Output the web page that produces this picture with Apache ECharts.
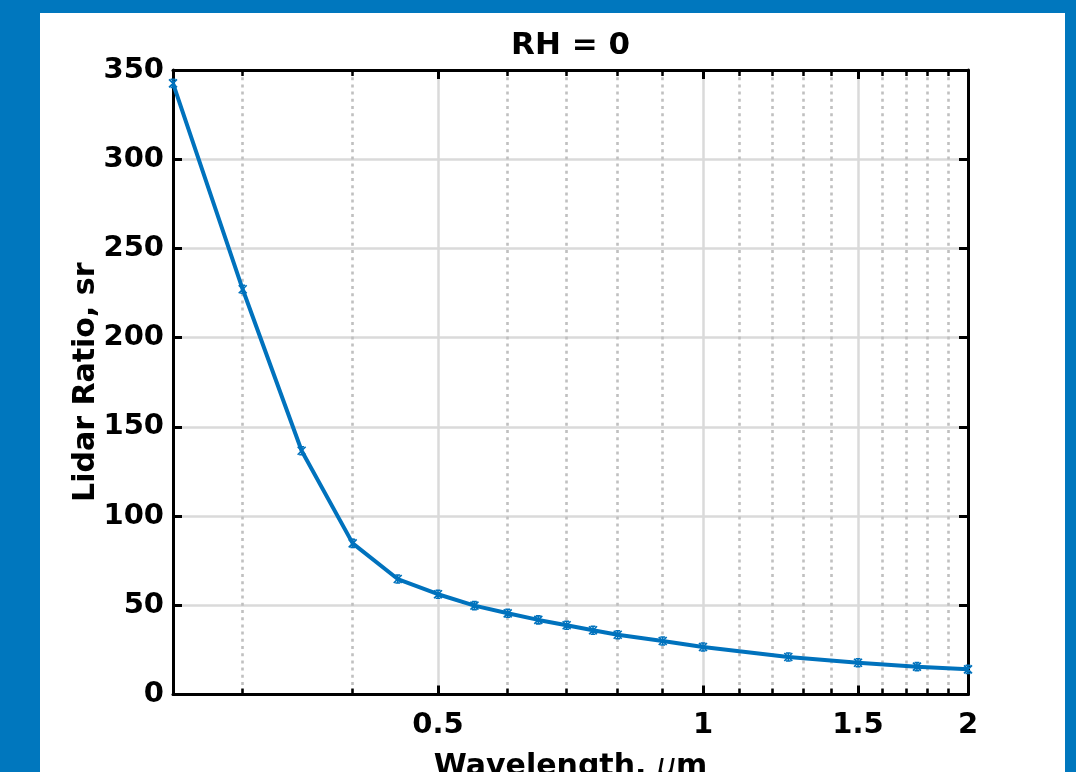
<!DOCTYPE html>
<html>
<head>
<meta charset="utf-8">
<script src="https://cdn.jsdelivr.net/npm/echarts@6/dist/echarts.min.js"></script>
<style>
  html, body { margin: 0; padding: 0; background: #0077be; }
  #chart { width: 1076px; height: 772px; }
</style>
</head>
<body>
<div id="chart"></div>
<script>
// Lidar ratio versus wavelength, dry aerosol (RH = 0)
const wavelengths = [0.25, 0.3, 0.35, 0.4, 0.45, 0.5, 0.55, 0.6, 0.65, 0.7, 0.75, 0.8, 0.9, 1.0, 1.25, 1.5, 1.75, 2.0];
const lidarRatio  = [342.5, 227.1, 136.6, 84.7, 64.7, 56.2, 49.8, 45.5, 41.8, 38.8, 36.0, 33.5, 30.0, 26.6, 21.0, 17.8, 15.6, 14.1];

const xMajorTicks  = [0.5, 1, 1.5, 2];
const xTickLabels  = ['0.5', '1', '1.5', '2'];
const xMinorTicks  = [0.3, 0.4, 0.6, 0.7, 0.8, 0.9, 1.1, 1.2, 1.3, 1.4, 1.6, 1.7, 1.8, 1.9];
const yTickValues  = [0, 50, 100, 150, 200, 250, 300, 350];

const titleText = 'RH = 0';
const yTitle = 'Lidar Ratio, sr';

const FONT = 'DejaVu Sans';
const LINE_BLUE = '#0072bd';
const GRID_GRAY = '#dadada';
const MINOR_GRAY = '#c0c0c0';

const chart = echarts.init(document.getElementById('chart'), null, { renderer: 'canvas' });

function nearestLabel(v) {
  let best = 0;
  for (let i = 1; i < xMajorTicks.length; i++) {
    if (Math.abs(xMajorTicks[i] - v) < Math.abs(xMajorTicks[best] - v)) best = i;
  }
  return xTickLabels[best];
}

const xRange = { type: 'log', logBase: 10, min: wavelengths[0], max: xMajorTicks[xMajorTicks.length - 1] };

function xAxisDef(position, major, withLabels) {
  return Object.assign({}, xRange, {
    position: position,
    axisLine: { show: major, onZero: false, lineStyle: { color: '#000', width: 3 } },
    axisTick: {
      show: true, inside: true, length: major ? 9 : 6,
      customValues: major ? xMajorTicks : xMinorTicks,
      lineStyle: { color: '#000', width: major ? 3 : 2.5 }
    },
    axisLabel: withLabels ? {
      show: true, customValues: xMajorTicks, margin: 16,
      formatter: nearestLabel,
      color: '#000', fontFamily: FONT, fontWeight: 'bold', fontSize: 29
    } : { show: false },
    splitLine: position === 'bottom' ? {
      show: true,
      lineStyle: major ? { color: GRID_GRAY, width: 2.5 }
                       : { color: MINOR_GRAY, width: 2.6, type: [3, 4.2] }
    } : { show: false },
    minorTick: { show: false },
    minorSplitLine: { show: false }
  });
}

const xAxes = [
  xAxisDef('bottom', true, true),
  xAxisDef('bottom', false, false),
  xAxisDef('top', true, false),
  xAxisDef('top', false, false)
];
xAxes[0].name = '{t|Wavelength, }{mu|\u03bc}{t|m}';
xAxes[0].nameLocation = 'middle';
xAxes[0].nameGap = 58;
xAxes[0].nameTextStyle = {
  rich: {
    t:  { fontFamily: FONT, fontWeight: 'bold', fontSize: 30, color: '#000' },
    mu: { fontFamily: FONT, fontStyle: 'italic', fontSize: 30, color: '#000' }
  }
};

function yAxisDef(position, withLabels) {
  return {
    type: 'value',
    min: yTickValues[0], max: yTickValues[yTickValues.length - 1], interval: 50,
    position: position,
    axisLine: { show: true, onZero: false, lineStyle: { color: '#000', width: 3 } },
    axisTick: { show: true, inside: true, length: 9, lineStyle: { color: '#000', width: 3 } },
    axisLabel: withLabels ? {
      show: true, margin: 9,
      color: '#000', fontFamily: FONT, fontWeight: 'bold', fontSize: 29
    } : { show: false },
    splitLine: withLabels ? { show: true, lineStyle: { color: GRID_GRAY, width: 2.5 } } : { show: false }
  };
}

const yAxes = [yAxisDef('left', true), yAxisDef('right', false)];
yAxes[0].name = yTitle;
yAxes[0].nameLocation = 'middle';
yAxes[0].nameRotate = 90;
yAxes[0].nameGap = 72;
yAxes[0].nameMoveOverlap = false;
yAxes[0].nameTextStyle = { fontFamily: FONT, fontWeight: 'bold', fontSize: 30, color: '#000' };

const seriesData = wavelengths.map((w, i) => [w, lidarRatio[i]]);

chart.setOption({
  animation: false,
  backgroundColor: '#0077be',
  graphic: [
    {
      type: 'rect', z: -100, silent: true,
      shape: { x: 40, y: 13, width: 1025, height: 770 },
      style: { fill: '#ffffff' }
    },
    {
      type: 'text', x: 570.5, y: 30, silent: true,
      style: {
        text: titleText, align: 'center', verticalAlign: 'top',
        fontFamily: FONT, fontWeight: 'bold', fontSize: 31, fill: '#000'
      }
    }
  ],
  grid: { left: 173, right: 108, top: 70, bottom: 77.5, outerBoundsMode: 'none', containLabel: false },
  xAxis: xAxes,
  yAxis: yAxes,
  series: [{
    type: 'line',
    xAxisIndex: 0, yAxisIndex: 0,
    data: seriesData,
    clip: false,
    symbol: 'path://M0,0L10,10M10,0L0,10M5,0L5,10M2,0L8,0M2,10L8,10',
    symbolSize: 8,
    itemStyle: { color: LINE_BLUE, borderColor: LINE_BLUE, borderWidth: 1.6 },
    lineStyle: { color: LINE_BLUE, width: 4 },
    z: 5
  }]
});
</script>
</body>
</html>
